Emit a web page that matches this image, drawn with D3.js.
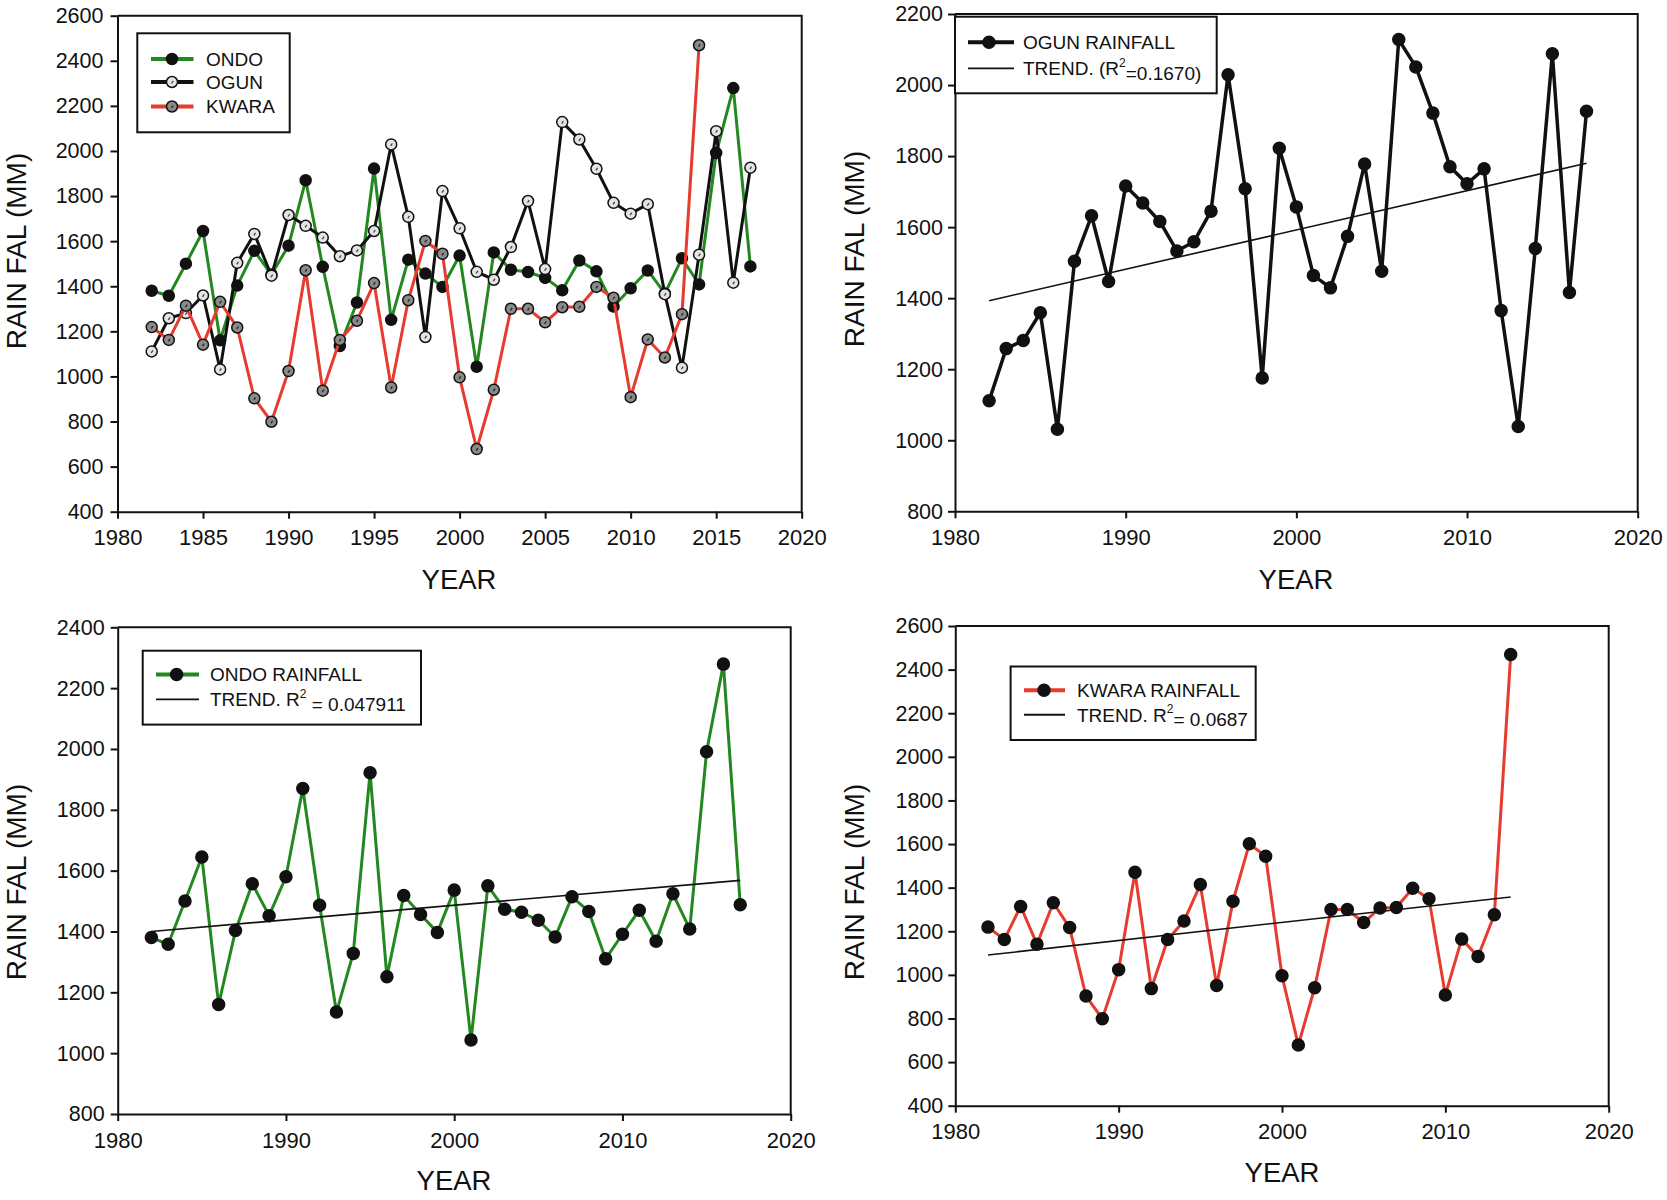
<!DOCTYPE html>
<html><head><meta charset="utf-8">
<script src="https://cdnjs.cloudflare.com/ajax/libs/d3/7.8.5/d3.min.js"></script>
<style>
body{margin:0;background:#fff;}
svg{display:block;}
text{font-family:"Liberation Sans", Arial, Helvetica, sans-serif; fill:#111;}
</style>
</head><body>
<svg id="chart" width="1667" height="1200"></svg>
<script>
// ---------------- DATA ----------------
const years = [1982,1983,1984,1985,1986,1987,1988,1989,1990,1991,1992,1993,1994,1995,1996,1997,1998,1999,
               2000,2001,2002,2003,2004,2005,2006,2007,2008,2009,2010,2011,2012,2013,2014,2015,2016,2017];
const kwaraYears = [1982,1983,1984,1985,1986,1987,1988,1989,1990,1991,1992,1993,1994,1995,1996,1997,1998,1999,
               2000,2001,2002,2003,2004,2005,2006,2007,2008,2009,2010,2011,2012,2013,2014];
const ondo  = [1380,1358,1500,1645,1160,1403,1557,1452,1580,1870,1486,1135,1328,1922,1251,1518,1456,1397,
               1536,1043,1550,1473,1463,1437,1382,1514,1466,1310,1391,1470,1368,1524,1408,1991,2279,1488];
const ogun  = [1111,1258,1281,1359,1031,1504,1632,1447,1716,1668,1616,1533,1559,1645,2029,1708,1175,1822,
               1657,1464,1429,1574,1778,1476,2128,2051,1921,1770,1722,1764,1365,1039,1540,2088,1416,1926];
const kwara = [1219,1162,1314,1141,1331,1217,903,799,1024,1471,937,1162,1247,1414,951,1338,1601,1544,
               996,678,941,1300,1300,1240,1307,1309,1397,1349,908,1164,1084,1276,2469];
const ogunTrend  = [1393, 1780];   // trend values at first and last year
const ondoTrend  = [1400, 1568];
const kwaraTrend = [1091, 1357];
const xTicks5  = [1980,1985,1990,1995,2000,2005,2010,2015,2020];
const xTicks10 = [1980,1990,2000,2010,2020];
const yTicks400_2600 = [400,600,800,1000,1200,1400,1600,1800,2000,2200,2400,2600];
const yTicks800_2200 = [800,1000,1200,1400,1600,1800,2000,2200];
const yTicks800_2400 = [800,1000,1200,1400,1600,1800,2000,2200,2400];
const seriesNames = ["ONDO","OGUN","KWARA"];
const yTitle = "RAIN FAL (MM)";
const xTitle = "YEAR";

// ---------------- STYLE ----------------
const GREEN = "#22881f", RED = "#e63b2e", BLACK = "#111";
const svg = d3.select("#chart");

function panel(cfg){
  const g = svg.append("g");
  const x = d3.scaleLinear().domain(cfg.xDomain).range([cfg.x0, cfg.x1]);
  const y = d3.scaleLinear().domain(cfg.yDomain).range([cfg.yB, cfg.yT]);

  g.append("path")
    .attr("d", `M${cfg.x0},${cfg.yT}H${cfg.x1}V${cfg.yB}`)
    .attr("fill","none").attr("stroke",BLACK).attr("stroke-width",2);

  const xa = g.append("g").attr("transform",`translate(0,${cfg.yB})`)
    .call(d3.axisBottom(x).tickValues(cfg.xTicks).tickFormat(d3.format("d")).tickSize(7).tickPadding(11).tickSizeOuter(0));
  const ya = g.append("g").attr("transform",`translate(${cfg.x0},0)`)
    .call(d3.axisLeft(y).tickValues(cfg.yTicks).tickFormat(d3.format("d")).tickSize(7).tickPadding(cfg.ypad||6).tickSizeOuter(0));
  [xa,ya].forEach((a,k)=>{
    a.select(".domain").attr("stroke",BLACK).attr("stroke-width",2);
    a.selectAll(".tick line").attr("stroke",BLACK).attr("stroke-width",2);
    a.selectAll(".tick text").attr("font-size",k===0?22:21.5).attr("fill","#111")
      .style("font-family",'"Liberation Sans", Arial, sans-serif');
  });

  g.append("text").attr("x",cfg.yTitle[0]).attr("y",cfg.yTitle[1])
    .attr("transform",`rotate(-90,${cfg.yTitle[0]},${cfg.yTitle[1]})`)
    .attr("text-anchor","middle").attr("dy","0.35em").attr("font-size",28).text(yTitle);
  g.append("text").attr("x",cfg.xTitle[0]).attr("y",cfg.xTitle[1])
    .attr("text-anchor","middle").attr("dy","0.35em").attr("font-size",27.5).text(xTitle);

  return {g,x,y};
}

function marker(g, cx, cy, r, style){
  g.append("circle").attr("cx",cx).attr("cy",cy).attr("r",r)
    .attr("fill",style.fill).attr("stroke","#111").attr("stroke-width",style.sw||1.5);
  if(style.dot){
    g.append("line").attr("x1",cx-0.5).attr("y1",cy+1.5).attr("x2",cx+1.2).attr("y2",cy-1)
      .attr("stroke",style.dot).attr("stroke-width",1.3);
  }
}

function series(P, xs, vals, color, lw, r, mstyle){
  const line = d3.line().x((d,i)=>P.x(xs[i])).y(d=>P.y(d));
  P.g.append("path").datum(vals).attr("d",line).attr("fill","none")
    .attr("stroke",color).attr("stroke-width",lw).attr("stroke-linejoin","round");
  vals.forEach((v,i)=>marker(P.g, P.x(xs[i]), P.y(v), r, mstyle));
}

function trend(P, xs, tv){
  const pts = [[xs[0],tv[0]],[xs[xs.length-1],tv[1]]];
  P.g.append("path").datum(pts)
    .attr("d", d3.line().x(d=>P.x(d[0])).y(d=>P.y(d[1])))
    .attr("fill","none").attr("stroke",BLACK).attr("stroke-width",1.6);
}

function legendBox(g, x0,y0,x1,y1){
  g.append("rect").attr("x",x0).attr("y",y0).attr("width",x1-x0).attr("height",y1-y0)
    .attr("fill","#fff").attr("stroke",BLACK).attr("stroke-width",2);
}
function legendSeries(g, lx0, lx1, mx, ty, tx, color, lw, r, mstyle, label){
  g.append("line").attr("x1",lx0).attr("x2",lx1).attr("y1",ty).attr("y2",ty)
    .attr("stroke",color).attr("stroke-width",lw);
  if(mstyle) marker(g, mx, ty, r, mstyle);
  const t = g.append("text").attr("x",tx).attr("y",ty).attr("dy","0.36em").attr("font-size",19);
  if(typeof label === "string") t.text(label);
  else label.forEach(p=>{
    const s = t.append("tspan").text(p.t);
    if(p.sup) s.attr("font-size",12).attr("dy","-0.7em");
    if(p.after) s.attr("dy", p.after);
  });
}

const ondoStyle  = {fill:"#111"};
const ogunStyle  = {fill:"#e4e4e4", dot:"#444"};
const kwaraStyle = {fill:"#8a8a8a", dot:"#222"};

// ---------------- PANEL A ----------------
const A = panel({x0:117.5,x1:801.7,yT:15.7,yB:511.7,xDomain:[1980,2020],yDomain:[400,2600],
  xTicks:xTicks5,yTicks:yTicks400_2600,yTitle:[16,251],xTitle:[459,579],ypad:7});
series(A, years, ondo, GREEN, 3, 5.5, ondoStyle);
series(A, years, ogun, BLACK, 3, 5.5, ogunStyle);
series(A, kwaraYears, kwara, RED, 3, 5.5, kwaraStyle);
legendBox(A.g, 137.3, 33.3, 289.7, 132.3);
legendSeries(A.g, 151, 193.5, 172, 59,   206, GREEN, 4, 5.5, ondoStyle,  seriesNames[0]);
legendSeries(A.g, 151, 193.5, 172, 82,   206, BLACK, 4, 5.5, ogunStyle,  seriesNames[1]);
legendSeries(A.g, 151, 193.5, 172, 106.5,206, RED,   4, 5.5, kwaraStyle, seriesNames[2]);

// ---------------- PANEL B (OGUN) ----------------
const B = panel({x0:955,x1:1637.7,yT:14,yB:511.3,xDomain:[1980,2020],yDomain:[800,2200],
  xTicks:xTicks10,yTicks:yTicks800_2200,yTitle:[854,249],xTitle:[1296,579],ypad:5});
series(B, years, ogun, BLACK, 3.5, 6, ondoStyle);
trend(B, years, ogunTrend);
legendBox(B.g, 955, 16.7, 1216.7, 93.3);
legendSeries(B.g, 968, 1014, 989, 42.3, 1023, BLACK, 4, 6, ondoStyle, "OGUN RAINFALL");
legendSeries(B.g, 968, 1014, 989, 68.3, 1023, BLACK, 1.8, 0, null,
  [{t:"TREND. (R"},{t:"2",sup:true},{t:"=0.1670)",after:"0.7em"}]);

// ---------------- PANEL C (ONDO) ----------------
const C = panel({x0:117.7,x1:790.7,yT:627.3,yB:1114,xDomain:[1980,2020],yDomain:[800,2400],
  xTicks:xTicks10,yTicks:yTicks800_2400,yTitle:[16,882],xTitle:[454,1180],ypad:6});
series(C, years, ondo, GREEN, 3, 6, ondoStyle);
trend(C, years, ondoTrend);
legendBox(C.g, 142.7, 650.7, 421, 724.6);
legendSeries(C.g, 156, 199, 176.6, 674.6, 210, GREEN, 4, 6, ondoStyle, "ONDO RAINFALL");
legendSeries(C.g, 156, 199, 176.6, 699.4, 210, BLACK, 1.6, 0, null,
  [{t:"TREND. R"},{t:"2",sup:true},{t:" = 0.047911",after:"0.7em"}]);

// ---------------- PANEL D (KWARA) ----------------
const D = panel({x0:955.3,x1:1608.7,yT:626,yB:1105.7,xDomain:[1980,2020],yDomain:[400,2600],
  xTicks:xTicks10,yTicks:yTicks400_2600,yTitle:[854,882],xTitle:[1282,1172],ypad:5});
series(D, kwaraYears, kwara, RED, 3, 6, ondoStyle);
trend(D, kwaraYears, kwaraTrend);
legendBox(D.g, 1010.6, 666.5, 1255.7, 740);
legendSeries(D.g, 1024, 1065, 1044, 690.3, 1077, RED, 4, 6, ondoStyle, "KWARA RAINFALL");
legendSeries(D.g, 1024, 1065, 1044, 714.7, 1077, BLACK, 2, 0, null,
  [{t:"TREND. R"},{t:"2",sup:true},{t:"= 0.0687",after:"0.7em"}]);
</script>
</body></html>
